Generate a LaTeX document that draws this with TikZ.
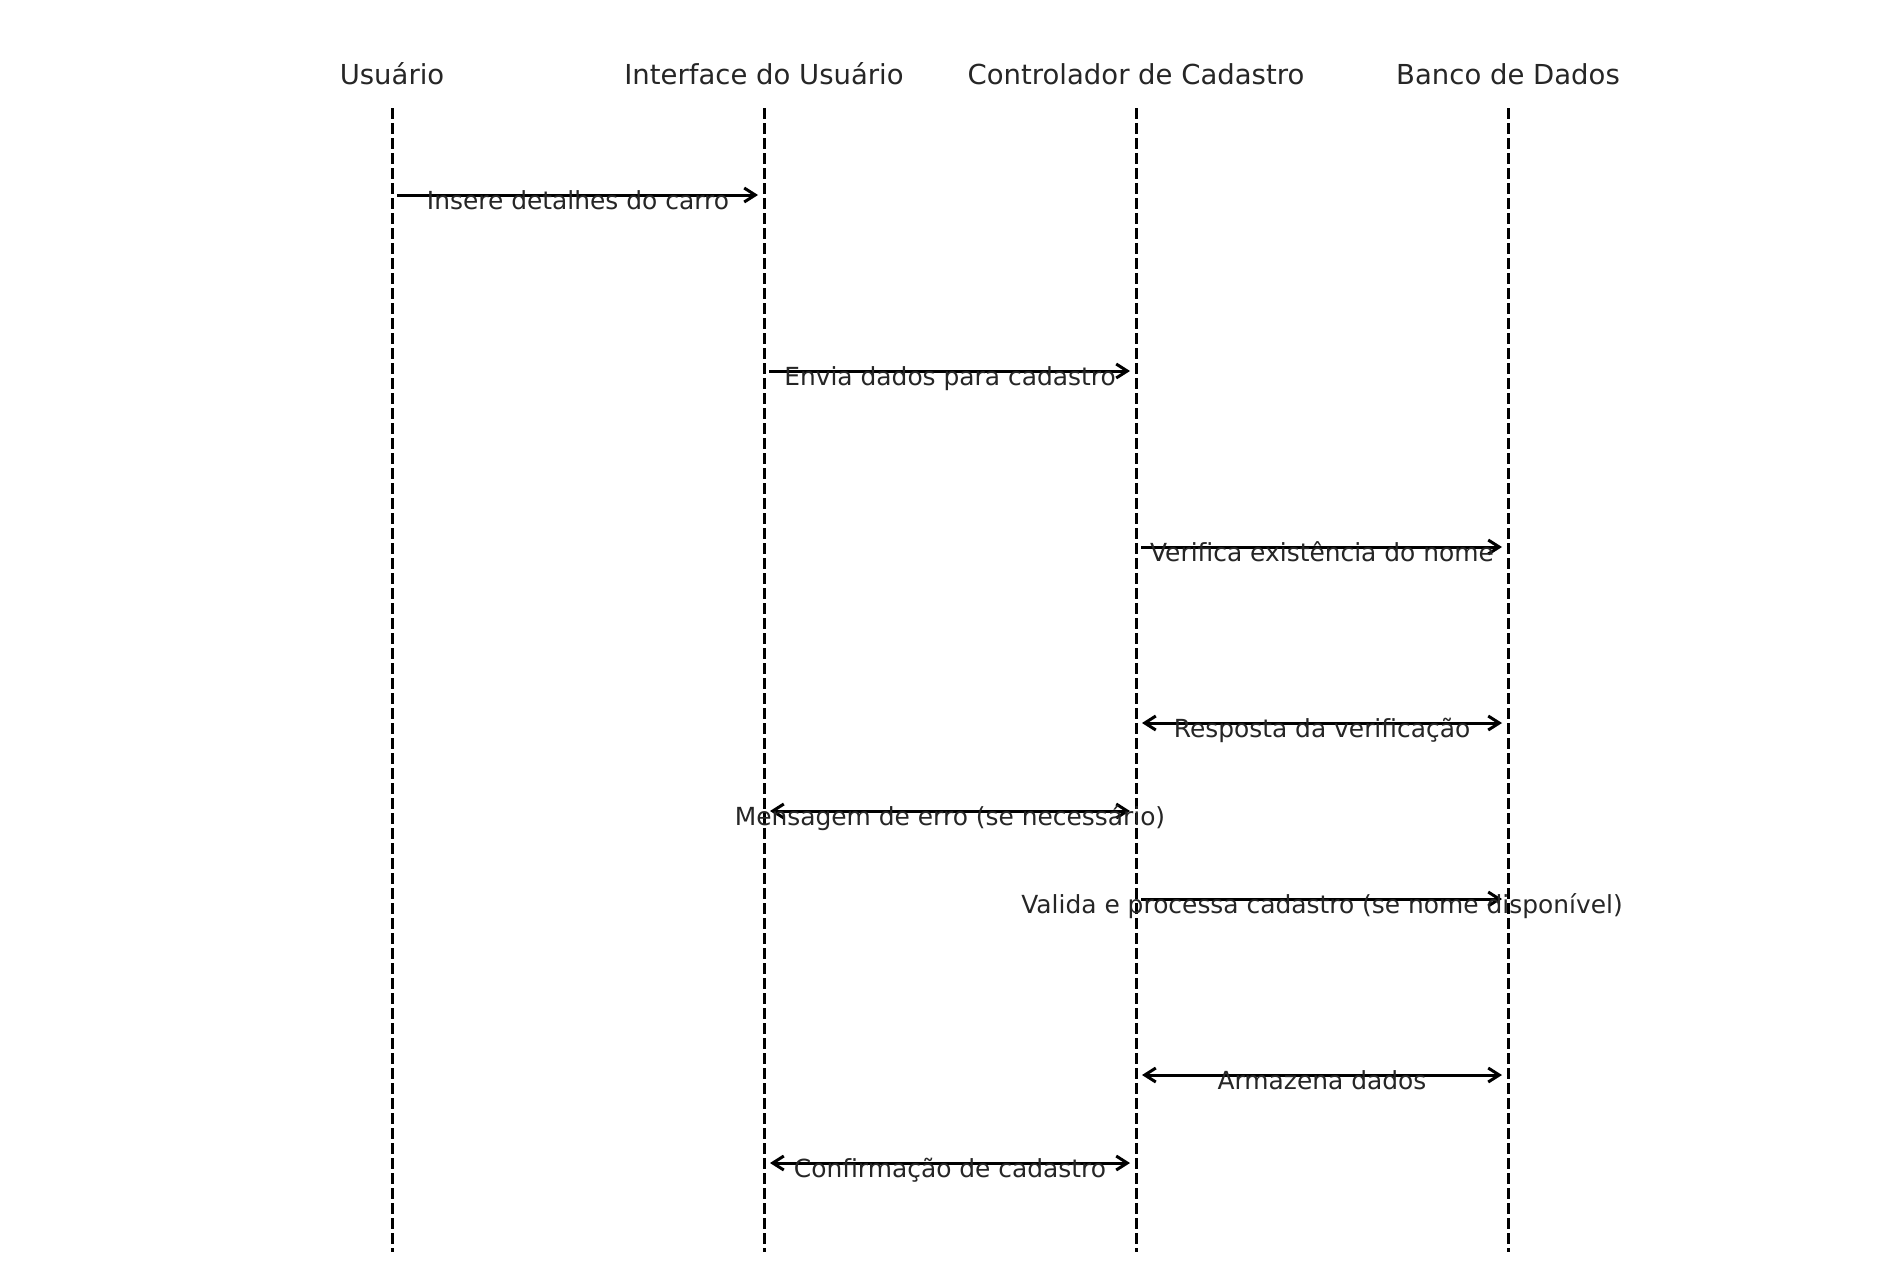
\documentclass[tikz,border=0pt]{standalone}
\usepackage{fontspec}
\setmainfont{DejaVu Sans}
\usetikzlibrary{arrows.meta}
\definecolor{txt}{HTML}{262626}
\begin{document}
\begin{tikzpicture}[x=1pt,y=-1pt,
  lifeline/.style={draw=black,line width=3pt,dash pattern=on 10.5pt off 4.5pt},
  msg/.style={draw=black,line width=3pt,-{Straight Barb[length=11pt,width=14pt,line width=3pt]}},
  dmsg/.style={draw=black,line width=3pt,{Straight Barb[length=11pt,width=14pt,line width=3pt]}-{Straight Barb[length=11pt,width=14pt,line width=3pt]}},
  head/.style={text=txt,font=\fontsize{27.5}{33}\selectfont,anchor=base,inner sep=0pt},
  lbl/.style={text=txt,font=\fontsize{24.9}{30}\selectfont,anchor=base,inner sep=0pt}]
\path[fill=white,use as bounding box] (0,0) rectangle (1900,1272);
% headers
\node[head] (h1) at (392,84) {Usuário};
\node[head] (h2) at (764,84) {Interface do Usuário};
\node[head] (h3) at (1136,84) {Controlador de Cadastro};
\node[head] (h4) at (1508,84) {Banco de Dados};
% lifelines
\foreach \i/\x in {1/392,2/764,3/1136,4/1508}{
  \coordinate (t\i) at (\x,108);
  \coordinate (b\i) at (\x,1252);
  \draw[lifeline] (t\i) -- (b\i);
}
% message endpoints
\coordinate (m1a) at (397,195);  \coordinate (m1b) at (758,195);
\coordinate (m2a) at (769,371);  \coordinate (m2b) at (1130,371);
\coordinate (m3a) at (1141,547); \coordinate (m3b) at (1502,547);
\coordinate (m4a) at (1142,723); \coordinate (m4b) at (1502,723);
\coordinate (m5a) at (770,811);  \coordinate (m5b) at (1130,811);
\coordinate (m6a) at (1141,899); \coordinate (m6b) at (1502,899);
\coordinate (m7a) at (1142,1075);\coordinate (m7b) at (1502,1075);
\coordinate (m8a) at (770,1163); \coordinate (m8b) at (1130,1163);
% arrows
\draw[msg] (m1a) -- (m1b);
\draw[msg] (m2a) -- (m2b);
\draw[msg] (m3a) -- (m3b);
\draw[dmsg] (m4a) -- (m4b);
\draw[dmsg] (m5a) -- (m5b);
\draw[msg] (m6a) -- (m6b);
\draw[dmsg] (m7a) -- (m7b);
\draw[dmsg] (m8a) -- (m8b);
% labels
\node[lbl] (l1) at (578,209) {Insere detalhes do carro};
\node[lbl] (l2) at (950,385) {Envia dados para cadastro};
\node[lbl] (l3) at (1322,561) {Verifica existência do nome};
\node[lbl] (l4) at (1322,737) {Resposta da verificação};
\node[lbl] (l5) at (950,825) {Mensagem de erro (se necessário)};
\node[lbl] (l6) at (1322,913) {Valida e processa cadastro (se nome disponível)};
\node[lbl] (l7) at (1322,1089) {Armazena dados};
\node[lbl] (l8) at (950,1177) {Confirmação de cadastro};
\end{tikzpicture}
\end{document}
